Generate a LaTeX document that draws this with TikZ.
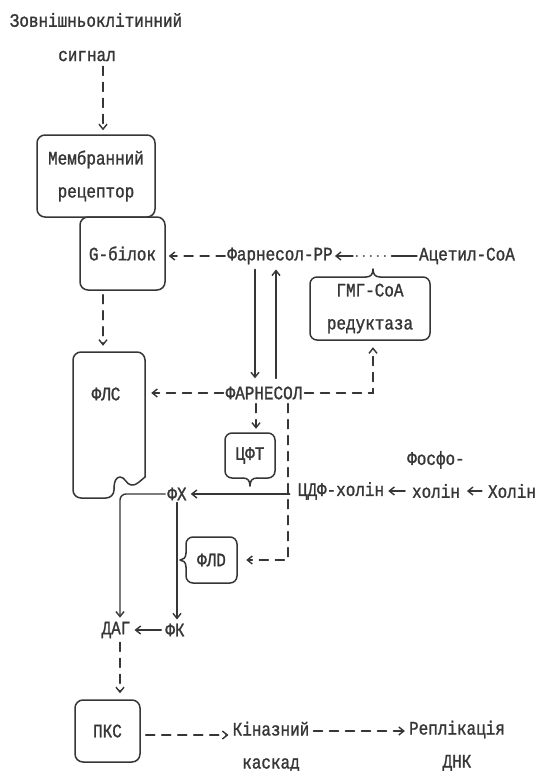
\documentclass[tikz,border=0pt]{standalone}
\usepackage{fontspec}
\setmainfont{Liberation Mono}[FakeStretch=0.84, FakeBold=1.2]
\usetikzlibrary{arrows.meta,calc}
\definecolor{ink}{HTML}{363636}
\begin{document}
\begin{tikzpicture}[x=1pt,y=-1pt,
  every node/.style={font=\fontsize{19}{33}\selectfont, text=ink, inner sep=2pt},
  box/.style={draw=ink, rounded corners=8pt, line width=1.5pt, align=center},
  plain/.style={draw=ink, line width=1.4pt, line cap=round},
  arr/.style={plain, -{Straight Barb[length=5pt,width=8pt]}},
  dsh/.style={dash pattern=on 9pt off 7pt},
  outline/.style={draw=ink, line width=1.5pt, line cap=round, line join=round}]
\path[fill=white] (0,0) rectangle (539,771);
\useasboundingbox (0,0) rectangle (539,771);

% nodes
\node (t1) at (96,20) {Зовнішньоклітинний};
\node (sig) at (87,56) {сигнал};
\node[box, minimum width=118pt, minimum height=82pt] (rec) at (96,176) {Мембранний\\рецептор};
\node[box, minimum width=85pt, minimum height=73pt] (gb) at (122.5,253.5) {G-білок};
\node[minimum width=72pt, minimum height=146pt] (flsb) at (109,425) {};
\node (fls) at (106,394) {ФЛС};
\node (fpp) at (280,256) {Фарнесол-РР};
\node (acoa) at (467,256) {Ацетил-СоА};
\node[minimum width=120pt, minimum height=63pt, align=center] (hmg) at (370,308.5) {ГМГ-СоА\\редуктаза};
\node (far) at (264,393) {ФАРНЕСОЛ};
\node[minimum width=50pt, minimum height=45pt] (cft) at (250,455.5) {ЦФТ};
\node (fx) at (177,494) {ФХ};
\node (cdp) at (341,491) {ЦДФ-холін};
\node[align=center] (pch) at (436,474.5) {Фосфо-\\холін};
\node (chol) at (512,491) {Холін};
\node[minimum width=51pt, minimum height=46pt] (fld) at (211.5,560) {ФЛD};
\node (dag) at (116,630) {ДАГ};
\node (fk) at (175,630) {ФК};
\node[box, minimum width=65pt, minimum height=62pt] (pks) at (107.5,731) {ПКС};
\node[align=center] (kin) at (271,747) {Кіназний\\каскад};
\node[align=center] (rep) at (457,746) {Реплікація\\ДНК};

% custom outlines
% ФЛС
\draw[outline, rounded corners=8pt] (114,488) -- (114,498) -- (73,498) -- (73,352) -- (145,352) -- (145,477);
\draw[outline] (145,477) .. controls (140,481) and (136,486) .. (131,485)
  .. controls (126,484) and (125,477) .. (120,477)
  .. controls (116,477) and (114,482) .. (114,488);
% ГМГ-СоА
\draw[outline, rounded corners=7pt] (366,277) -- (310,277) -- (310,340) -- (430,340) -- (430,277) -- (380,277);
\draw[outline] (366,277) .. controls (371,277) and (373,274) .. (373,269)
  .. controls (373,274) and (375,277) .. (380,277);
% ЦФТ
\draw[outline, rounded corners=7pt] (243,478) -- (225,478) -- (225,433) -- (275,433) -- (275,478) -- (257,478);
\draw[outline] (243,478) .. controls (248,478) and (250,481) .. (250,486)
  .. controls (250,481) and (252,478) .. (257,478);
% ФЛD
\draw[outline, rounded corners=7pt] (186,553) -- (186,537) -- (237,537) -- (237,583) -- (186,583) -- (186,567);
\draw[outline] (186,553) .. controls (186,558) and (183,560) .. (180,560)
  .. controls (183,560) and (186,562) .. (186,567);

% connectors
\draw[arr,dsh,shorten <=3pt,shorten >=4pt] ([xshift=16pt]sig.south) -- ([xshift=7pt]rec.north);
\draw[arr,dsh,shorten <=4pt,shorten >=6pt] ([xshift=-19.5pt]gb.south) -- ([xshift=-6pt]flsb.north);
\draw[arr,dsh,shorten >=3pt] (fpp.west) -- (fpp.west -| gb.east);
\draw[plain] (acoa.west) -- ++(-25,0) coordinate (a1);
\draw[plain, line width=2pt, dash pattern=on 0pt off 7pt] (a1) -- ++(-36,0) coordinate (a2);
\draw[arr] ([xshift=-3pt]a2) -- (fpp.east);
\draw[arr,shorten <=3pt,shorten >=6pt] ([xshift=-9pt]far.north |- fpp.south) -- ([xshift=-9pt]far.north);
\draw[arr,shorten <=6pt,shorten >=3pt] ([xshift=12pt]far.north) -- ([xshift=12pt]far.north |- fpp.south);
\draw[arr,dsh,shorten >=6pt] (far.west) -- (far.west -| flsb.east);
\draw[arr,dsh,shorten >=7pt] (far.east) -| ([xshift=3pt]hmg.south);
\draw[arr,dsh,shorten <=2pt,shorten >=4pt] ([xshift=-8pt]far.south) -- ([xshift=-8pt]far.south |- cft.north);
\draw[arr,dsh,shorten <=2pt,shorten >=9pt] ([xshift=24pt]far.south) |- (fld.east);
\draw[arr,shorten <=6pt,shorten >=2pt] (cdp.west |- fx.east) -- (fx.east);
\draw[arr,shorten >=2pt] (pch.west |- cdp.east) -- (cdp.east);
\draw[arr,shorten <=4pt] (chol.west) -- (chol.west -| pch.east);
\draw[arr,rounded corners=6pt,shorten >=2pt] (fx.west) -| ([xshift=4pt]dag.north);
\draw[arr,shorten >=2pt] (fx.south) -- (fx.south |- fk.north);
\draw[arr,shorten <=2pt,shorten >=2pt] (fk.west) -- (dag.east);
\draw[arr,dsh,shorten <=2pt,shorten >=6pt] ([xshift=4pt]dag.south) -- ([xshift=4pt]dag.south |- pks.north);
\draw[arr,dsh,shorten <=5pt,shorten >=2pt] ([yshift=-4pt]pks.east) -- ([yshift=-4pt]pks.east -| kin.west);
\draw[arr,dsh,shorten <=2pt,shorten >=2pt] (kin.east |- pks.east) -- (rep.west |- pks.east);
\end{tikzpicture}
\end{document}
